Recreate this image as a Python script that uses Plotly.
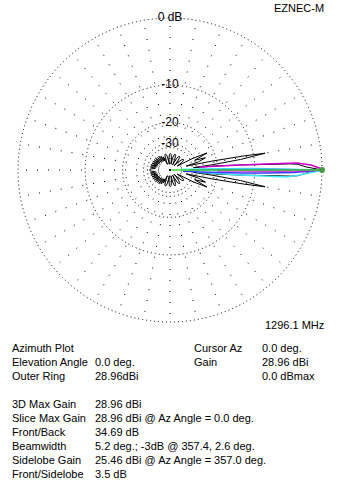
import plotly.graph_objects as go

# ---------------- data (azimuth deg, gain dB relative to max) ----------------
black_az = [0, 1.3, 2.6, 2.9, 3.3, 4.1, 5.0, 5.8, 7.0, 8.5, 10.0, 10.8, 12.0, 13.5, 16, 19,
            21.5, 24.7, 27, 29, 32, 35, 38, 41, 44, 46, 49, 52, 55, 58, 61, 63, 66, 69, 72, 75,
            78, 80, 83, 86, 89, 92, 95, 97, 100, 103, 106, 109, 112, 114, 117, 120, 123, 126,
            129, 132, 135, 138, 141, 144, 147, 150, 153, 156, 159, 162, 165, 168, 171, 174,
            177, 180,
            183, 186, 189, 192, 195, 198, 201, 204, 207, 210, 213, 216, 219, 222, 225, 228,
            231, 234, 237, 240, 243, 246, 248, 251, 254, 257, 260, 263, 265, 268, 271, 274,
            277, 280, 282, 285, 288, 291, 294, 297, 299, 302, 305, 308, 311, 314, 316, 319,
            322, 325, 328, 331, 333, 335.3, 338.5, 341, 344, 346.5, 348, 349.2, 350, 351.5,
            353, 354.2, 355, 355.9, 356.7, 357.1, 357.4, 358.7, 360]
black_db = [0, -1.9, -3.0, -4.0, -7.9, -13, -20, -32, -22, -13, -7.8, -12, -22, -38, -28, -24,
            -30, -22.6, -30, -50, -42, -38, -37.5, -39, -45, -56, -44, -39, -38, -39, -44, -56,
            -44, -39, -38, -39, -44, -56, -44, -39, -38, -39, -44, -56, -44, -39, -38, -39, -44,
            -55, -40, -46, -38, -45, -37, -44, -37, -44, -36, -43, -36, -43, -35.5, -42, -35.5,
            -42, -35, -41, -35, -40, -35, -34.69,
            -35, -40, -35, -41, -35, -42, -35.5, -42, -35.5, -43, -36, -43, -36, -44, -37, -44,
            -37, -45, -38, -46, -40, -55, -44, -39, -38, -39, -44, -56, -44, -39, -38, -39,
            -44, -56, -44, -39, -38, -39, -44, -56, -44, -39, -38, -39, -44, -56, -45, -39,
            -37.5, -38, -42, -50, -30, -22.6, -30, -24, -28, -38, -22, -12, -7.8, -13,
            -22, -32, -20, -13, -7.9, -4.0, -3.0, -1.9, 0]

magenta_az = [6.0, 4.1, 3.6, 3.15, 2.0, 0.8, 0, -0.44, -0.6, -1.0]
magenta_db = [-28, -13.1, -8.0, -3.05, -1.3, -0.3, 0, -2.7, -8.0, -20.0]

blue_az = [0.6, 0.3, 0, -1.2, -1.8, -2.45, -3.8, -5.5]
blue_db = [-35, -6, 0, -3.5, -7.9, -13.0, -27.5, -42]

cyan_az = [2.5, 1.9, 1.0, 0, -1.5, -2.8, -3.4, -3.9, -5.0]
cyan_db = [-45, -27.5, -10, 0, -1.8, -3.5, -4.5, -12, -30]

cursor_az = [0, 0]
cursor_db = [-80, 0]

ring_db = [0, -10, -20, -30]
ring_labels = ["0 dB", "-10", "-20", "-30"]

info_left = [("Azimuth Plot", ""), ("Elevation Angle", "0.0 deg."), ("Outer Ring", "28.96dBi"),
             ("", ""), ("3D Max Gain", "28.96 dBi"),
             ("Slice Max Gain", "28.96 dBi @ Az Angle = 0.0 deg."),
             ("Front/Back", "34.69 dB"), ("Beamwidth", "5.2 deg.; -3dB @ 357.4, 2.6 deg."),
             ("Sidelobe Gain", "25.46 dBi @ Az Angle = 357.0 deg."), ("Front/Sidelobe", "3.5 dB")]
info_right = [("Cursor Az", "0.0 deg."), ("Gain", "28.96 dBi"), ("", "0.0 dBmax")]


def arrl(db_list):
    # ARRL log scale: radius shrinks by 0.89 for every 2 dB
    return [0.89 ** (-d / 2.0) for d in db_list]


W, H = 340, 490
CX, CY, R = 170, 170, 152
RMAX = 1.012            # small headroom so the 0 dB ring is drawn as a grid circle
RD = R * RMAX           # radius of the polar domain in px
FONT = "Liberation Sans, Arial, sans-serif"

fig = go.Figure()

fig.add_trace(go.Scatterpolar(theta=black_az, r=arrl(black_db), mode="lines",
                              line=dict(color="black", width=1), hoverinfo="skip"))
fig.add_trace(go.Scatterpolar(theta=cyan_az, r=arrl(cyan_db), mode="lines",
                              line=dict(color="#40e8ff", width=1.5), hoverinfo="skip"))
fig.add_trace(go.Scatterpolar(theta=blue_az, r=arrl(blue_db), mode="lines",
                              line=dict(color="#3a3aff", width=1.5), hoverinfo="skip"))
fig.add_trace(go.Scatterpolar(theta=magenta_az, r=arrl(magenta_db), mode="lines",
                              line=dict(color="#cc00cc", width=1.5), hoverinfo="skip"))
fig.add_trace(go.Scatterpolar(theta=cursor_az, r=arrl(cursor_db), mode="lines",
                              line=dict(color="#33dd33", width=1.5), hoverinfo="skip"))
fig.add_trace(go.Scatterpolar(theta=cursor_az[1:], r=arrl(cursor_db[1:]), mode="markers",
                              marker=dict(color="#449944", size=6), hoverinfo="skip"))
fig.add_trace(go.Scatterpolar(theta=[90] * len(ring_db), r=arrl(ring_db), mode="text",
                              text=ring_labels, textposition="middle center",
                              textfont=dict(family=FONT, size=12, color="black"),
                              hoverinfo="skip"))

fig.update_layout(
    width=W, height=H, margin=dict(l=0, r=0, t=0, b=0),
    paper_bgcolor="white", plot_bgcolor="white", showlegend=False,
    polar=dict(
        domain=dict(x=[(CX - RD) / W, (CX + RD) / W], y=[1 - (CY + RD) / H, 1 - (CY - RD) / H]),
        bgcolor="rgba(0,0,0,0)",
        radialaxis=dict(range=[0, RMAX], tickvals=arrl(ring_db), showticklabels=False,
                        ticks="", showline=False, showgrid=True, gridcolor="black",
                        gridwidth=1, griddash="1px,3px"),
        angularaxis=dict(rotation=0, direction="counterclockwise", dtick=10,
                         showticklabels=False, ticks="", showline=False, showgrid=True,
                         gridcolor="black", gridwidth=1, griddash="1px,10px"),
    ),
)

ann = []


def txt(x, y, s, anchor="left"):
    ann.append(dict(x=x / W, y=1 - y / H, xref="paper", yref="paper", text=s, showarrow=False,
                    xanchor=anchor, yanchor="middle",
                    font=dict(family=FONT, size=11, color="black")))


txt(326, 8, "EZNEC-M", "right")
txt(326, 325, "1296.1 MHz", "right")
y0 = 348
for i, (lab, val) in enumerate(info_left):
    y = y0 + i * 14
    if lab:
        txt(10, y, lab)
    if val:
        txt(93, y, val)
for i, (lab, val) in enumerate(info_right):
    y = y0 + i * 14
    if lab:
        txt(192, y, lab)
    if val:
        txt(260, y, val)

fig.update_layout(annotations=ann)
fig.write_html("out.html")
